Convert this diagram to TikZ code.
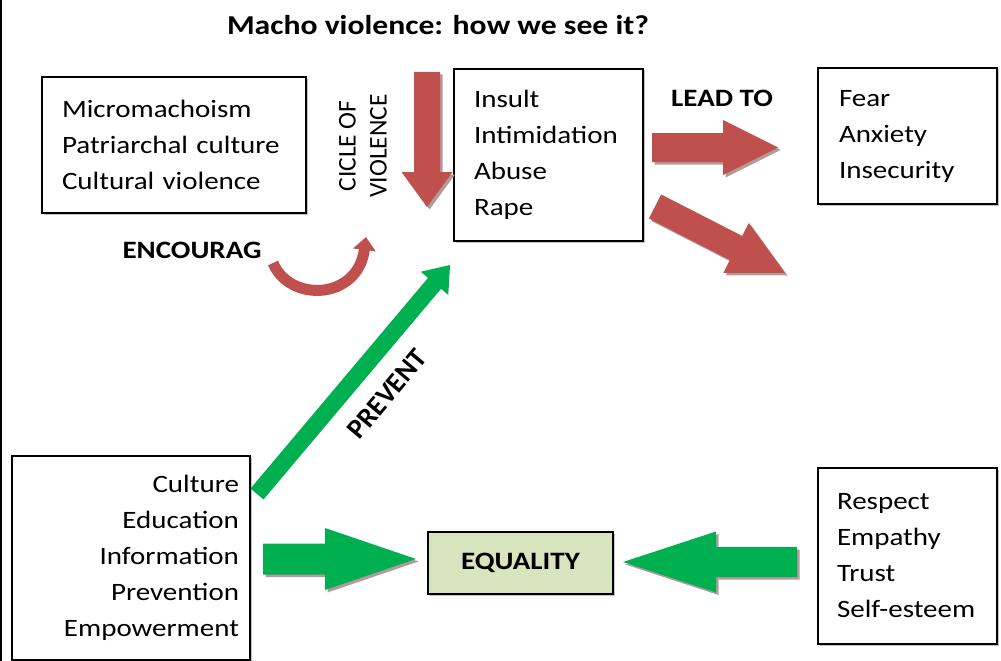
\documentclass[tikz,border=0pt]{standalone}
\usepackage{fontspec}
\setmainfont{Carlito}[FakeStretch=1.16]
\newfontfamily\rotfont{Carlito}
\usetikzlibrary{arrows.meta,calc,positioning,shadows}
\definecolor{vred}{HTML}{C0504D}
\definecolor{vgreen}{HTML}{00B050}
\definecolor{eqfill}{HTML}{D7E4BD}
\definecolor{shade}{HTML}{B39A9A}
\newcommand\txt{\fontsize{25}{36}\selectfont}
% block arrow: style, half shaft, half head, head length, tail, tip
\newcommand\blockarrow[6]{%
  \coordinate (neck) at ($(#6)!#4!(#5)$);
  \path[#1] ($(#5)!#2!90:(#6)$) -- ($(neck)!#2!90:(#6)$) -- ($(neck)!#3!90:(#6)$)
    -- (#6) -- ($(neck)!#3!-90:(#6)$) -- ($(neck)!#2!-90:(#6)$) -- ($(#5)!#2!-90:(#6)$) -- cycle;
}
\begin{document}
\begin{tikzpicture}[x=1pt,y=-1pt,
every node/.style={font=\txt},
box/.style={draw,line width=1.2pt,fill=white,inner sep=0pt,
  drop shadow={shadow xshift=1.5pt,shadow yshift=-1.5pt,fill=black!40,opacity=.6}},
arrowshade/.style={drop shadow={shadow xshift=2.5pt,shadow yshift=-2.5pt,fill=shade,opacity=1}},
redarrow/.style={fill=vred,arrowshade},
greenarrow/.style={fill=vgreen,arrowshade},
prevarrow/.style={fill=vgreen}]
\clip (0,0) rectangle (1001,661);
\draw[line width=1.5pt] (1,0) coordinate (frameT) -- (1,661) coordinate (frameB);

\node[font=\fontsize{27.3}{33}\selectfont\bfseries] (title) at (438,25) {Macho violence: how we see it?};

% boxes
\node[box,minimum width=264pt,minimum height=136pt,text width=224pt,align=left] (roots) at (174,145)
  {Micromachoism\\Patriarchal culture\\Cultural violence};
\node[box,minimum width=189pt,minimum height=172pt,text width=149pt,align=left] (acts) at (548.5,155)
  {Insult\\Intimidation\\Abuse\\Rape};
\node[box,minimum width=179pt,minimum height=136pt,text width=137pt,align=left] (effects) at (907.5,136)
  {Fear\\Anxiety\\Insecurity};
\node[box,minimum width=238pt,minimum height=204pt,text width=216pt,align=right] (tools) at (131,558)
  {Culture\\Education\\Information\\Prevention\\Empowerment};
\node[box,minimum width=179pt,minimum height=176pt,text width=141pt,align=left] (values) at (907.5,556)
  {Respect\\Empathy\\Trust\\Self-esteem};
\node[box,fill=eqfill,line width=1.8pt,minimum width=185pt,minimum height=62pt,font=\txt\bfseries] (equal) at (520.5,563) {EQUALITY};

% labels
\node[font=\rotfont\fontsize{25.5}{31}\selectfont,rotate=90,align=center] (cicle) at (363,146) {CICLE OF\\VIOLENCE};
\node[font=\txt\bfseries] (leadto) at (722,98) {LEAD TO};
\node[font=\txt\bfseries] (encourag) at (192,250) {ENCOURAG};
\node[font=\rotfont\fontsize{28}{34}\selectfont\bfseries,rotate=50] (prevent) at (387,394) {PREVENT};

% arrows
\coordinate (cycA) at (427,72);  \coordinate (cycB) at (427,207);
\coordinate (leadA) at (652,147.5); \coordinate (leadB) at (778,147.5);
\coordinate (diagA) at (655,206.5); \coordinate (diagB) at (785,273);
\coordinate (eqA) at (263,559); \coordinate (eqB) at (416,559);
\coordinate (valA) at (797,562); \coordinate (valB) at (623,562);
\coordinate (prevA) at (257,494); \coordinate (prevB) at (450,265);
\coordinate (encA) at (273,263); \coordinate (encB) at (366,237);
\blockarrow{redarrow}{13pt}{25.5pt}{35pt}{cycA}{cycB}
\blockarrow{redarrow}{14.5pt}{27.5pt}{55pt}{leadA}{leadB}
\blockarrow{redarrow}{13.5pt}{28pt}{55pt}{diagA}{diagB}
\blockarrow{greenarrow}{15.5pt}{31pt}{91pt}{eqA}{eqB}
\blockarrow{greenarrow}{15pt}{30.5pt}{93pt}{valA}{valB}
\blockarrow{prevarrow}{8.5pt}{18pt}{24pt}{prevA}{prevB}
\draw[vred,line width=11pt,-{Triangle[width=22pt,length=13pt]}] (encA) .. controls (290,303) and (358,300) .. (encB);
\end{tikzpicture}
\end{document}
